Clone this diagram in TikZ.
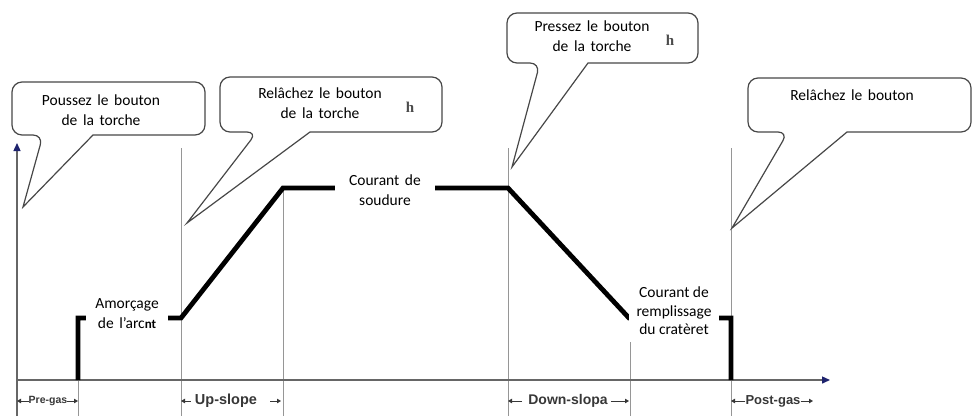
\documentclass[tikz,border=0pt]{standalone}
\usepackage{fontspec}
\setmainfont{Carlito}
\newfontfamily\phasefont{Liberation Sans}
\newfontfamily\hfont{Liberation Serif}
\usetikzlibrary{arrows.meta,calc}

\definecolor{axisblue}{RGB}{30,35,110}
\definecolor{guidegray}{RGB}{150,150,150}
\definecolor{phasegray}{RGB}{55,55,55}

\newcommand\bubblefont{\fontsize{15.5}{20}\selectfont\spaceskip=0.36em\relax}

\begin{document}
\begin{tikzpicture}[x=1pt, y=-1pt,
  every node/.style={font=\bubblefont, align=center},
  guide/.style={guidegray, line width=0.9pt},
  axis/.style={draw=black!60, line width=1.4pt, -{Triangle[length=8pt,width=7pt,color=axisblue]}},
  current/.style={line width=4.8pt, line join=miter},
  bubble/.style={draw=black!72, line width=1.2pt, fill=white},
  tag/.style={fill=white, inner sep=0pt},
  phase/.style={font=\phasefont\bfseries\fontsize{14}{16}\selectfont, text=phasegray, inner sep=0pt},
  span/.style={phasegray, line width=0.9pt, -{Triangle[length=4pt,width=4.5pt]}}]
\useasboundingbox (0,0) rectangle (973,416);

% axes
\coordinate (o) at (17,380);
\coordinate (ybot) at (17,416);
\coordinate (ytop) at (17,143);
\coordinate (xend) at (830,380);

% thin guides at each phase change
\foreach \x/\top/\n in {78/318/g1, 181/148/g2, 283/188/g3, 508/148/g4, 630/300/g5, 731/148/g6} {
  \coordinate (\n) at (\x,\top);
  \draw[guide] (\n) -- (\x,416);
}
\draw[axis] (ybot) -- (ytop);
\draw[axis] (o) -- (xend);

% current profile
\draw[current] (78,380) -- (78,318) -- (181,318) -- (283,188) -- (508,188)
  -- (629,318) -- (731,318) -- (731,380);

% labels on the profile
\node[tag, minimum width=100pt, minimum height=44pt] (weld) at (385,190) {Courant de\\soudure};
\node[tag, minimum width=82pt, minimum height=46pt] (strike) at (127,314)
  {Amorçage\\de l’arc{\bfseries\fontsize{13}{20}\selectfont nt}};
\node[tag, minimum width=90pt, minimum height=62pt, font=\fontsize{15.5}{18.5}\selectfont] (crater) at (674,311)
  {Courant de\\remplissage\\du cratèret};

% callouts
\draw[bubble, rounded corners=10pt] (108,82) -- (12,82) -- (12,135) -- (43,135)
  [sharp corners] -- (23,207) -- (93,135) [rounded corners=10pt] -- (205,135) -- (205,82) -- cycle;
\node (push) at (101,110) {Poussez le bouton\\de la torche};

\draw[bubble, rounded corners=10pt] (331,77) -- (220,77) -- (220,132) -- (257,132)
  [sharp corners] -- (187,223) -- (310,132) [rounded corners=10pt] -- (442,132) -- (442,77) -- cycle;
\node (release) at (320,103) {Relâchez le bouton\\de la torche};
\node[font=\hfont\bfseries\fontsize{15}{15}\selectfont, text=black!70] (h1) at (410,107) {h};

\draw[bubble, rounded corners=10pt] (602,13) -- (507,13) -- (507,63) -- (540,63)
  [sharp corners] -- (512,167) -- (588,63) [rounded corners=10pt] -- (698,63) -- (698,13) -- cycle;
\node (press) at (592,36) {Pressez le bouton\\de la torche};
\node[font=\hfont\bfseries\fontsize{15}{15}\selectfont, text=black!70] (h2) at (670,40) {h};

\draw[bubble, rounded corners=10pt] (860,78) -- (748,78) -- (748,132) -- (788,132)
  [sharp corners] -- (732,228) -- (847,132) [rounded corners=10pt] -- (971,132) -- (971,78) -- cycle;
\node (stop) at (852,95) {Relâchez le bouton};

% phase names under the time axis
\node[phase, font=\phasefont\bfseries\fontsize{10.5}{12}\selectfont] (pregas) at (48,401) {Pre-gas};
\draw[span] (pregas.west) -- (pregas.west -| o);
\draw[span] (pregas.east) -- (pregas.east -| g1);

\node[phase, font=\phasefont\bfseries\fontsize{14.5}{16}\selectfont] (upslope) at (226,401) {Up-slope};
\draw[span, shorten <=4pt] (upslope.west) -- (upslope.west -| g2);
\draw[span, shorten <=13pt, shorten >=2pt] (upslope.east) -- (upslope.east -| g3);

\node[phase] (downslope) at (568,401) {Down-slopa};
\draw[span, shorten <=6pt] (downslope.west) -- (downslope.west -| g4);
\draw[span, shorten <=3pt, shorten >=1pt] (downslope.east) -- (downslope.east -| g5);

\coordinate (pend) at (813,401);
\node[phase, font=\phasefont\bfseries\fontsize{13}{16}\selectfont] (postgas) at (773,401) {Post-gas};
\draw[span] (postgas.west) -- (postgas.west -| g6);
\draw[span] (postgas.east) -- (pend);
\end{tikzpicture}
\end{document}
